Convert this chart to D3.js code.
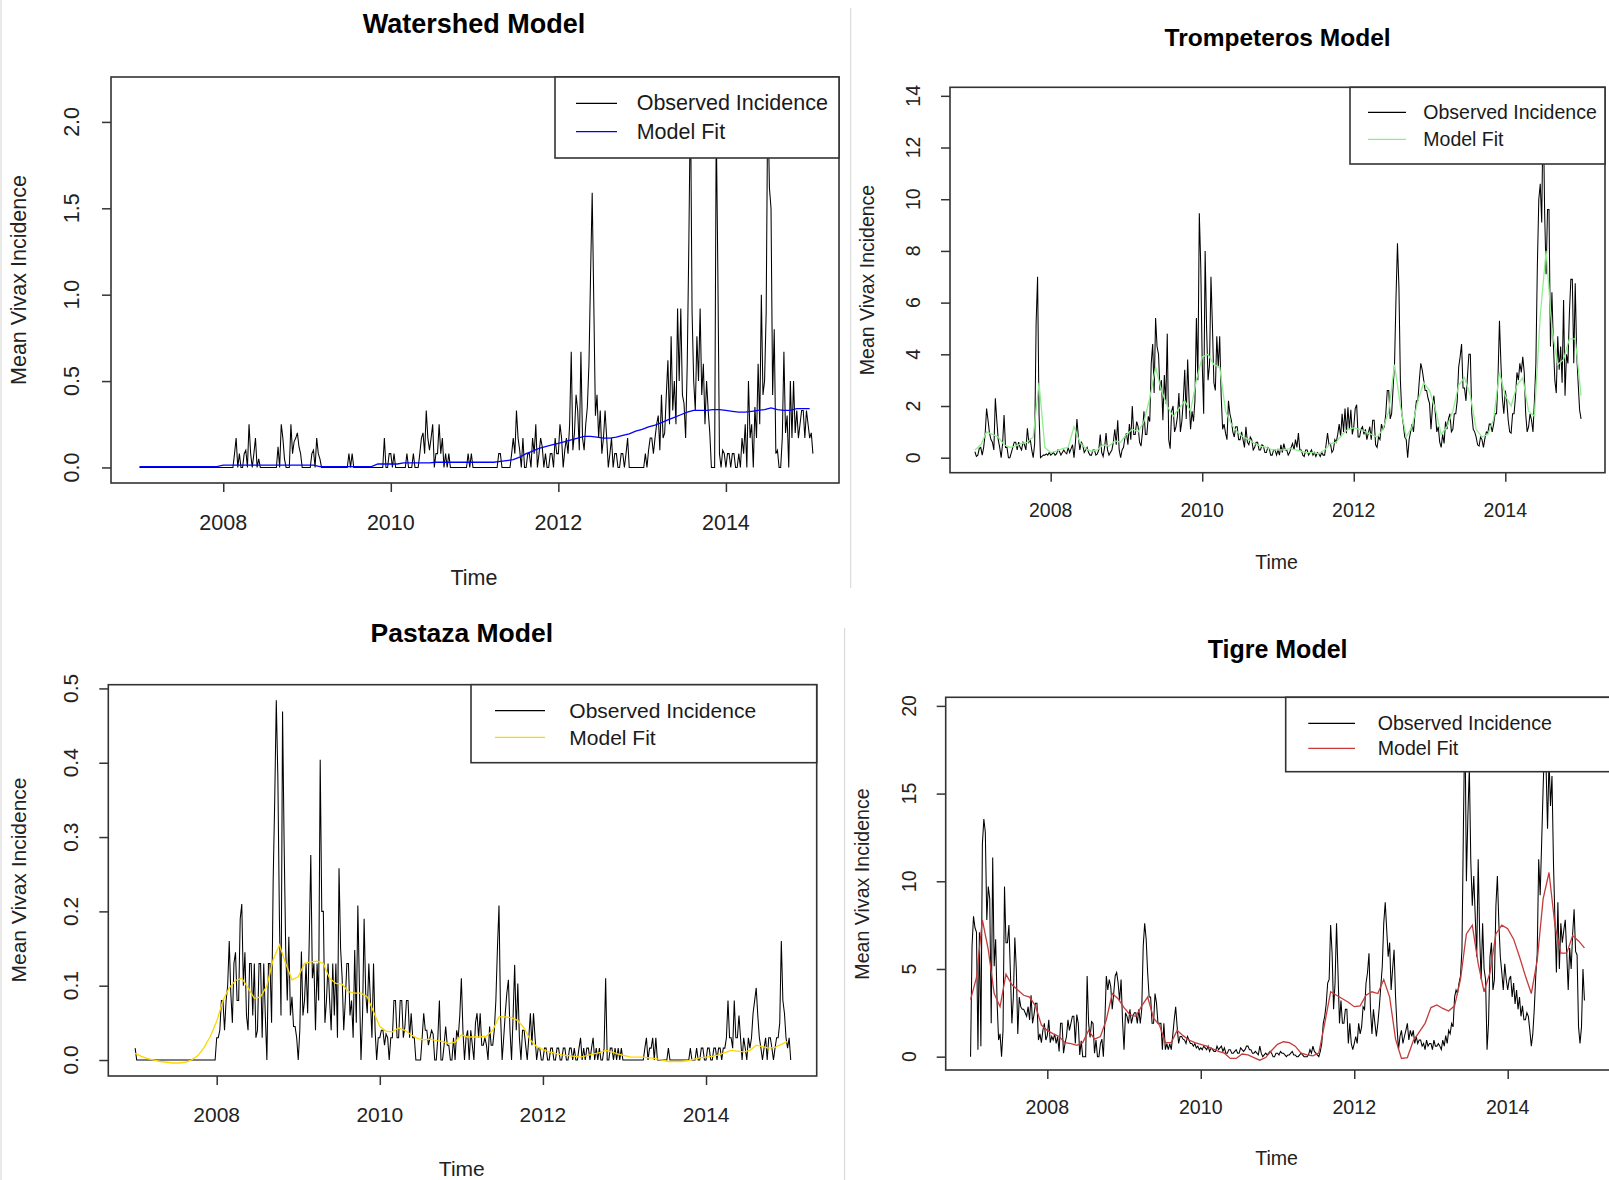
<!DOCTYPE html>
<html><head><meta charset="utf-8">
<script src="https://cdn.jsdelivr.net/npm/d3@7"></script>
<style>body{margin:0;background:#fff}svg{display:block}</style>
</head><body>
<svg id="chart" width="1609" height="1180"></svg>
<script>
// ---------------- DATA ----------------
const START_YEAR = 2007;
const OBS_PER_YEAR = 52;   // observed values, weekly
const FIT_PER_YEAR = 13;   // model fit values, roughly monthly
const xTickYears = [2008, 2010, 2012, 2014];
const legendLabels = ["Observed Incidence", "Model Fit"];
const panelTitles = ["Watershed Model", "Trompeteros Model", "Pastaza Model", "Tigre Model"];
const xAxisTitle = "Time";
const yAxisTitle = "Mean Vivax Incidence";

const wsYTicks = [0, 0.5, 1, 1.5, 2];
const wsYTickLabels = ["0.0", "0.5", "1.0", "1.5", "2.0"];
const trYTicks = [0, 2, 4, 6, 8, 10, 12, 14];
const trYTickLabels = ["0", "2", "4", "6", "8", "10", "12", "14"];
const paYTicks = [0, 0.1, 0.2, 0.3, 0.4, 0.5];
const paYTickLabels = ["0.0", "0.1", "0.2", "0.3", "0.4", "0.5"];
const tiYTicks = [0, 5, 10, 15, 20];
const tiYTickLabels = ["0", "5", "10", "15", "20"];

const wsObs = [
 0,0,0,0,0,0,0,0,0,0,0,0,0, 0,0,0,0,0,0,0,0,0,0,0,0,0, 0,0,0,0,0,0,0,0,0,0,0,0,0, 0,0,0,0,0,0,0,0,0,0,0,0,0,
 0,0, 0,0, 0,0, 0,0.08, 0.17,0, 0.08,0, 0,0.08, 0.1,0, 0.25,0.08, 0,0.08, 0.17,0, 0.05,0, 0,0, 0,0, 0,0, 0,0, 0,0, 0.12,0, 0.25,0.17, 0.05,0, 0,0, 0.25,0.08, 0.15,0.17, 0.2,0.12, 0.08,0, 0,0,
 0,0, 0,0.08, 0.1,0, 0.17,0.08, 0.05,0, 0,0, 0,0, 0,0, 0,0, 0,0, 0,0, 0,0, 0,0, 0.08,0, 0.08,0, 0,0, 0,0, 0,0, 0,0, 0,0, 0,0, 0,0, 0,0, 0,0, 0.17,0, 0,0.08,
 0.08,0, 0.08,0, 0,0, 0,0, 0,0, 0.08,0, 0,0, 0.08,0, 0,0, 0.08,0.17, 0.2,0.08, 0.33,0.17, 0.1,0.17, 0.25,0, 0.08,0.08, 0.25,0.08, 0.17,0, 0.08,0, 0.08,0, 0,0, 0,0, 0,0, 0,0, 0,0, 0.08,0, 0.08,0,
 0,0, 0,0, 0,0, 0,0, 0,0, 0,0, 0,0, 0,0.08, 0.08,0, 0,0, 0,0, 0,0.08, 0.17,0.08, 0.33,0.17, 0.1,0, 0.17,0, 0,0.08, 0.08,0, 0.17,0.08, 0.25,0, 0.08,0.17, 0.12,0, 0.08,0, 0,0.08, 0.08,0, 0.17,0.08,
 0.08,0.25, 0.17,0, 0.1,0.17, 0.08,0.25, 0.67,0.1, 0.2,0.42, 0.33,0.1, 0.67,0.17, 0.1,0.25, 0.35,0.6, 1.12,1.59, 0.95,0.3, 0.42,0.17, 0.33,0.08, 0.17,0.33, 0.17,0, 0.08,0.17, 0,0.08, 0.08,0, 0,0.08, 0.08,0, 0.08,0.17, 0,0, 0,0, 0,0, 0,0,
 0,0, 0.08,0, 0.1,0.17, 0.17,0.08, 0.17,0.25, 0.3,0.1, 0.42,0.17, 0.2,0.42, 0.62,0.25, 0.76,0.33, 0.5,0.25, 0.92,0.5, 0.92,0.42, 0.37,0.17, 0.6,1.3, 2.17,0.9, 0.5,0.33, 0.76,0.5, 0.92,0.42, 0.6,0.25, 0.5,0.33, 0.2,0, 0,0, 2.0,1.13, 0.08,0, 0.1,0.08,
 0,0.08, 0.08,0, 0.08,0.08, 0,0, 0.08,0, 0.17,0.08, 0.25,0, 0.5,0.17, 0.25,0, 0.35,0.17, 0.6,0.25, 1.0,0.42, 0.5,0.9, 2.17,1.62, 1.5,0.42, 0.8,0.08, 0.1,0, 0,0.17, 0.67,0.2, 0.3,0, 0.5,0.17, 0.5,0.2, 0.33,0.17, 0.25,0.33, 0.33,0.17, 0.33,0.25,
 0.17,0.2,0.08
];
const wsFit = [
 0.005,0.005,0.005,0.005,0.005,0.005,0.005,0.005,0.005,0.005,0.005,0.005,0.005,
 0.013,0.013,0.013,0.013,0.013,0.013,0.013,0.013,0.013,0.013,0.013,0.013,0.013,0.013,0.013,
 0.005,0.005,0.005,0.005,0.005,0.005,0.005,0.005,0.005,
 0.02,0.02,0.02,0.02,
 0.027,0.027,0.027,0.027,0.027,
 0.03,0.03,0.03,0.03,0.03,0.03,0.03,0.03,0.03,0.03,
 0.035,0.04,0.045,0.06,0.08,0.095,0.11,0.12,0.13,
 0.14,0.15,0.16,0.17,0.18,0.18,0.175,0.17,0.17,0.175,0.185,0.195,0.21,
 0.22,0.235,0.245,0.26,0.275,0.29,0.305,0.32,0.33,0.33,0.33,0.335,0.335,
 0.33,0.325,0.32,0.32,0.325,0.33,0.335,0.345,0.335,0.33,0.33,0.34,0.34,0.34
];

const trObs = [
 0.23,0.05, 0.1,0.36, 0.4,0.1, 0.4,0.9, 1.9,1.45, 0.95,0.7, 0.6,0.3, 2.3,1.45, 0.7,0.4, 0,0.55, 1.65,0.4, 0.4,0, 0,0.2, 0.4,0.6, 0.6,0.3, 0.6,0.4, 0.3,0.6, 0.5,0.3, 1.14,0.6, 0.7,0.3, 0,0.55, 5.2,7.0, 1.7,0, 0.05,0.1, 0.1,0.15, 0.1,0.2,
 0.1,0.15, 0.2,0.1, 0.15,0.3, 0.25,0.1, 0.2,0.3, 0.2,0.15, 0.4,0.2, 0.35,0.5, 0,0.6, 1.5,0.8, 0.3,0.6, 0.5,0.2, 0.3,0.4, 0.2,0.1, 0.1,0.3, 0.3,0.1, 0.15,0.3, 0.9,0.2, 0.05,0.4, 0.95,0.3, 0.1,0.2, 0.3,0.6, 1.1,0.5, 1.45,0.3, 0,0.3, 0.4,0.8,
 0.95,0.5, 1.3,0.7, 2.0,0.9, 0.9,1.4, 1.2,0.6, 0.45,1.0, 1.8,0.9, 0.9,1.6, 1.4,3.65, 4.4,2.5, 5.4,4.3, 4.0,2.6, 3.0,1.45, 3.2,2.1, 4.8,0.7, 0.35,1.8, 2.0,1.0, 1.2,1.6, 2.5,1.0, 1.4,2.2, 3.4,1.5, 3.8,2.2, 1.1,1.8, 1.4,2.2, 5.4,3.0, 9.46,7.4,
 3.65,1.7, 8.0,5.0, 3.0,3.6, 7.0,5.1, 2.9,2.6, 4.7,3.5, 4.7,2.4, 1.1,1.3, 0.95,0.7, 2.2,1.7, 1.45,1.0, 0.8,1.2, 1.2,0.7, 0.7,1.0, 0.7,0.4, 1.2,0.6, 0.5,0.8, 0.7,0.3, 0.4,0.6, 0.6,0.3, 0.3,0.5, 0.45,0.2, 0.2,0.4, 0.35,0.1, 0.1,0.3, 0.3,0.1,
 0.3,0.1, 0.5,0.2, 0.55,0.3, 0.3,0.1, 0.2,0.4, 0.55,0.3, 0.7,0.4, 0.95,0.3, 0.3,0.1, 0.05,0.3, 0.3,0.1, 0.2,0.3, 0.1,0.2, 0.05,0.2, 0.15,0.05, 0.2,0.1, 0.1,0.5, 0.95,0.5, 0.55,0.2, 0.3,0.7, 0.6,0.9, 1.3,0.8, 1.7,1.0, 1.9,0.95, 1.95,1.1, 1.85,0.9,
 1.2,1.9, 2.05,0.8, 0.8,1.1, 1.2,0.9, 1.1,0.7, 0.95,1.2, 0.7,1.45, 1.45,0.5, 0.4,0.8, 0.7,1.3, 1.1,1.2, 1.7,2.6, 2.6,1.5, 1.7,2.7, 3.65,6.2, 8.3,6.6, 3.0,1.7, 1.3,0.8, 0.7,0, 0.7,1.0, 1.3,1.0, 1.7,2.2, 2.2,3.0, 3.65,3.4, 3.0,2.6, 2.6,2.3,
 2.1,1.1, 1.95,2.4, 1.7,1.0, 1.2,0.6, 0.4,0.9, 0.55,1.4, 1.1,1.5, 1.7,1.0, 1.1,1.7, 1.7,2.2, 3.5,3.9, 4.4,2.7, 2.7,2.2, 3.1,4.0, 4.0,1.7, 1.1,1.0, 0.8,0.5, 0.45,0.8, 0.7,0.4, 0.75,1.0, 0.95,1.3, 1.3,1.0, 1.3,1.7, 1.7,3.1, 5.3,3.65, 2.3,1.7,
 2.6,2.2, 1.45,1.0, 0.95,1.7, 1.7,2.35, 3.3,3.0, 3.65,3.3, 3.9,3.3, 1.7,1.0, 1.2,1.7, 1.45,1.0, 2.2,3.65, 7.4,10.0, 10.6,9.1, 13.8,9.5, 7.1,9.6, 9.6,4.3, 6.4,4.4, 3.0,2.5, 4.7,3.4, 4.3,2.9, 6.1,2.4, 4.0,3.65, 5.6,6.9, 6.9,3.65, 6.75,4.0, 2.9,1.85,
 1.5
];
const trFit = [
 0.3,0.5,1.0,0.9,0.8,0.5,0.4,0.45,0.55,0.6,0.8,2.9,0.4,
 0.2,0.25,0.35,0.4,1.2,0.6,0.35,0.25,0.3,0.5,0.45,0.65,0.6,
 0.9,1.1,1.0,1.4,2.3,3.5,2.6,2.0,1.6,1.9,2.2,1.8,3.0,
 3.9,4.0,3.6,3.5,1.8,1.3,1.0,0.8,0.7,0.55,0.45,0.4,0.3,
 0.3,0.3,0.35,0.3,0.25,0.2,0.2,0.15,0.3,0.55,0.6,0.9,1.1,
 1.15,1.1,1.0,0.9,0.8,1.1,1.8,3.6,2.0,0.8,1.2,2.2,2.9,
 2.6,1.9,0.9,1.2,1.8,2.8,3.1,2.4,1.1,0.8,0.9,1.5,3.3,
 2.4,2.0,2.8,3.1,1.8,1.6,5.5,8.0,5.0,3.6,3.8,4.6,4.6,
 2.4
];

const paObs = [
 0.016,0,0,0,0,0,0,0,0,0,0,0,0, 0,0,0,0,0,0,0,0,0,0,0,0,0, 0,0,0,0,0,0,0,0,0,0,0,0,0, 0,0,0,0,0,0,0,0,0,0,0,0,0,
 0.03,0.03, 0.04,0.08, 0.08,0.04, 0.08,0.1, 0.16,0.09, 0.05,0.13, 0.145,0.08, 0.08,0.19, 0.21,0.1, 0.145,0.06, 0.04,0.13, 0.13,0.06, 0.13,0.03, 0.04,0.13, 0.13,0.03, 0.13,0.06, 0,0.13, 0.13,0.05, 0.24,0.35, 0.484,0.38, 0.19,0.06, 0.469,0.29, 0.15,0.08, 0.166,0.06, 0.085,0.045, 0.045,0.03,
 0,0.04, 0.146,0.06, 0.08,0.13, 0.063,0.16, 0.276,0.11, 0.13,0.04, 0.13,0.08, 0.404,0.2, 0.2,0.05, 0.08,0.13, 0.08,0.04, 0.13,0.06, 0.13,0.03, 0.258,0.15, 0.11,0.04, 0.08,0.13, 0.13,0.06, 0.08,0.03, 0.148,0.05, 0.208,0.1, 0,0.06, 0.19,0.09, 0.063,0.13, 0.08,0.03, 0.13,0.04, 0,0.03,
 0.03,0.04, 0.04,0.02, 0.035,0.03, 0,0.03, 0.03,0.08, 0.08,0.03, 0.03,0.08, 0.08,0.03, 0.045,0.08, 0.08,0.03, 0.063,0.03, 0.03,0, 0,0, 0,0.03, 0.063,0.04, 0.04,0.02, 0.03,0.04, 0.035,0, 0,0.03, 0.08,0, 0,0.02, 0.045,0.02, 0.02,0, 0,0.03, 0,0.04, 0.03,0.06,
 0.11,0.04, 0,0.03, 0.04,0, 0.04,0.02, 0,0.05, 0.063,0.03, 0.063,0.02, 0.02,0.03, 0.02,0, 0.045,0.02, 0.02,0.04, 0.08,0.15, 0.208,0.06, 0,0.03, 0.063,0.09, 0.108,0.04, 0,0.06, 0.128,0.04, 0.103,0.03, 0,0.04, 0.04,0.02, 0,0.03, 0.063,0.02, 0.063,0.03, 0,0.016, 0.016,0,
 0,0.016, 0.016,0, 0,0.016, 0.016,0, 0,0.016, 0.016,0, 0,0.016, 0.016,0, 0,0.016, 0.016,0, 0.016,0, 0,0.016, 0.03,0, 0.016,0, 0.016,0.016, 0,0.016, 0.03,0, 0.016,0, 0.016,0, 0,0.016, 0.11,0, 0,0.016, 0.016,0, 0.016,0, 0.016,0, 0.016,0,
 0,0, 0,0, 0,0, 0,0, 0,0, 0,0, 0,0.016, 0.03,0, 0.016,0.016, 0.03,0, 0.03,0, 0,0, 0,0, 0,0, 0.016,0, 0,0, 0,0, 0,0, 0,0, 0,0, 0,0, 0.016,0, 0,0, 0.016,0, 0,0.016, 0.016,0,
 0,0.016, 0.016,0, 0,0.016, 0.016,0, 0.016,0.016, 0,0.016, 0.016,0.03, 0.08,0.03, 0.03,0.016, 0.08,0.03, 0.03,0.06, 0.03,0, 0.03,0.016, 0,0.03, 0.016,0.03, 0.063,0.08, 0.097,0.06, 0.03,0.016, 0,0.016, 0.03,0, 0.03,0.03, 0.016,0, 0.016,0.03, 0.03,0.05, 0.16,0.08, 0.063,0.03,
 0.016,0.03,0
];
const paFit = [
 0.009,0.005,0.002,0,-0.002,-0.003,-0.004,-0.004,-0.003,0,0.006,0.017,0.032,
 0.052,0.08,0.097,0.107,0.11,0.097,0.083,0.085,0.1,0.135,0.155,0.13,0.108,
 0.112,0.13,0.132,0.133,0.13,0.11,0.103,0.102,0.092,0.09,0.09,0.085,0.065,
 0.045,0.039,0.038,0.043,0.04,0.034,0.029,0.027,0.028,0.026,0.025,0.022,0.024,
 0.034,0.031,0.031,0.031,0.032,0.04,0.058,0.058,0.057,0.053,0.043,0.027,0.018,
 0.014,0.011,0.009,0.007,0.006,0.005,0.004,0.006,0.008,0.01,0.013,0.011,0.008,
 0.006,0.004,0.004,0.004,0.003,0.002,0,-0.002,-0.002,-0.002,-0.001,0.001,0.003,
 0.004,0.005,0.007,0.01,0.013,0.012,0.011,0.013,0.02,0.018,0.016,0.017,0.021,
 0.025
];

const tiObs = [
 0,6.3,8.0,7.35,7.1,0.4,7.1,0.6,12.1,13.55, 12.8,7.8,9.7,9.0,1.9,11.35,5.15,6.7,3.05,0.95, 1.3,0,1.5,9.7,6.5,6.5,7.5,4.8,1.9,3.4, 6.8,5.0,1.3,3.4,2.85,2.7,2.7,2.5,2.3,2.85, 2.1,3.5,1.9,2.4,3.05,3.05,0.95,1.3,0.8,1.5, 1.9,0.95,
 1.2,2.1,0.8,1.15,0.95,1.3,0.75,1.15,0.3,1.9, 1.9,0.2,0.75,1.15,2.1,1.5,1.9,2.3,2.3,0.75, 2.4,1.9,0.1,0.9,0,0,0,4.6,1.9,1.1, 2.0,1.9,0.2,0.95,0,0,0.75,1.0,0,2.0, 4.6,3.8,4.4,4.0,2.7,3.6,4.6,4.8,4.2,3.2, 4.4,2.0,
 0.4,2.5,2.3,1.9,2.7,1.9,2.3,2.5,2.5,1.9, 2.7,1.9,2.7,6.3,7.6,6.7,4.8,3.4,3.4,1.9, 1.9,3.6,3.05,1.9,1.9,1.9,0.4,1.9,0.4,0.75, 0.4,0.75,0.4,1.2,2.1,2.85,1.7,0.75,1.15,1.15, 1.0,0.95,0.75,1.15,0.95,0.75,0.75,0.6,0.75,0.5, 0.6,0.4,
 0.5,0.4,0.6,0.5,0.4,0.6,0.3,0.5,0.4,0.3, 0.3,0.6,0.4,0.5,0.6,0.3,0.5,0.2,0.2,0.4, 0.4,0.2,0.2,0.3,0.4,0.2,0.2,0.5,0.4,0.3, 0.4,0.6,0.6,0.4,0.4,0.2,0.2,0.3,0.2,0.1, 0.6,0.2,0,0.1,0.2,0.1,0.2,0.3,0.2,0, 0,0.2,
 0.2,0.1,0.3,0.2,0.2,0.1,0,0.1,0.1,0.2, 0.3,0.1,0.1,0,0,0.1,0.2,0.1,0,0, 0,0.1,0.4,0.2,0.6,0.3,0.2,0.1,0,0.3, 0.75,1.9,2.3,3.0,4.2,4.4,7.5,5.9,2.7,4.2, 7.6,4.8,1.9,3.2,1.9,1.9,2.7,2.7,0.75,1.9, 0.75,0.4,
 0.75,1.15,0.75,1.9,1.3,1.7,2.85,2.7,4.2,4.8, 5.9,2.7,1.3,2.7,1.9,1.15,1.9,2.85,4.0,5.15, 7.6,8.8,7.25,5.7,6.5,3.8,5.0,6.1,3.4,1.7, 0.4,1.15,1.5,0.75,1.15,1.5,1.9,0.95,1.5,1.15, 1.5,0.75,1.15,0.75,0.95,0.95,0.6,0.75,0.4,0.95, 0.6,0.75,
 0.75,0.4,0.95,0.6,0.6,0.75,0.6,0.4,0.95,0.6, 1.2,0.75,1.5,1.3,1.9,1.7,3.4,3.8,3.6,4.2, 4.6,6.1,13.2,19.6,10.0,13.7,16.5,11.1,8.6,10.3, 8.0,5.7,11.25,6.9,4.4,7.6,5.0,4.4,0.4,1.9, 5.7,6.5,3.8,4.4,8.6,10.3,7.6,5.7,4.8,3.8, 5.3,4.4,
 3.8,4.4,4.6,3.4,4.2,3.0,3.8,2.7,3.4,2.3, 2.9,2.1,2.1,2.5,2.3,1.5,0.6,1.3,2.7,4.6, 5.9,11.25,9.2,12.2,15.3,18.0,16.5,13.0,17.0,14.3, 16.0,11.1,7.8,4.8,8.8,5.0,7.6,6.5,7.2,7.8, 5.9,3.8,6.2,5.0,7.0,8.4,6.0,5.8,1.7,0.75, 1.7,5.0,
 3.2
];
const tiFit = [
 3.25,4.5,7.8,6.1,3.6,2.85,4.7,4.1,3.8,3.5,3.4,2.9,1.8,
 1.5,1.3,1.15,0.8,0.75,0.65,0.8,1.5,1.0,1.15,2.1,3.6,3.3,
 2.8,2.4,2.3,2.9,3.4,2.2,1.8,0.8,0.8,1.5,1.2,0.95,0.8,
 0.7,0.6,0.45,0.3,0.2,-0.1,-0.1,0.15,0.1,-0.05,-0.2,-0.05,0.35,
 0.7,0.85,0.8,0.6,0.2,0.1,0.05,0.2,1.9,3.7,3.5,3.3,3.1,
 2.85,2.9,3.5,3.7,3.6,4.4,3.4,1.0,-0.1,-0.05,0.9,1.4,1.9,
 2.8,2.95,2.75,2.6,2.9,4.4,7.0,7.5,5.3,3.7,4.8,7.0,7.5,
 7.3,6.7,5.7,4.6,3.6,5.5,9.0,10.5,7.5,5.9,5.9,6.9,6.6,
 6.2
];

// ---------------- LAYOUT ----------------
const panels = [
 {id:"ws", title:panelTitles[0], obs:wsObs, fit:wsFit, yTicks:wsYTicks, yLabels:wsYTickLabels, color:"#0000ff",
  left:111, right:839, top:77, bottom:483, xDom:[2006.66,2015.35], yDom:[-0.09,2.26],
  fs:21.5, tfs:27, titleX:474, titleY:24, timeX:474, timeY:578, ylabX:18.5, ylabY:280, yTickX:72, xTickY:523.4,
  lg:{x0:555,x1:839,y0:77,y1:158,lx0:576,lx1:617,ly:[103.3,131.7],tx:636.7}},
 {id:"tr", title:panelTitles[1], obs:trObs, fit:trFit, yTicks:trYTicks, yLabels:trYTickLabels, color:"#90ee90",
  left:950, right:1605, top:87.3, bottom:472.7, xDom:[2006.671,2015.316], yDom:[-0.58,14.33],
  fs:19.5, tfs:24.5, titleX:1277.6, titleY:37, timeX:1276.6, timeY:562.4, ylabX:867, ylabY:280, yTickX:913, xTickY:510,
  lg:{x0:1350,x1:1605,y0:87.3,y1:164,lx0:1368,lx1:1406,ly:[112.3,139.3],tx:1423.3}},
 {id:"pa", title:panelTitles[2], obs:paObs, fit:paFit, yTicks:paYTicks, yLabels:paYTickLabels, color:"#ffd700",
  left:108.3, right:816.7, top:684.7, bottom:1076, xDom:[2006.671,2015.357], yDom:[-0.0215,0.505],
  fs:21, tfs:26.5, titleX:461.8, titleY:633, timeX:461.8, timeY:1168, ylabX:18.5, ylabY:880, yTickX:70, xTickY:1114.5,
  lg:{x0:471,x1:816.7,y0:684.7,y1:762.7,lx0:495,lx1:545,ly:[710.7,737.3],tx:569.3}},
 {id:"ti", title:panelTitles[3], obs:tiObs, fit:tiFit, yTicks:tiYTicks, yLabels:tiYTickLabels, color:"#c53b3b",
  left:945.7, right:1611.3, top:697.3, bottom:1070, xDom:[2006.676,2015.35], yDom:[-0.76,20.49],
  fs:19.6, tfs:25, titleX:1277.6, titleY:648.5, timeX:1276.6, timeY:1157.5, ylabX:862, ylabY:884, yTickX:909, xTickY:1107.3,
  lg:{x0:1285.7,x1:1612,y0:697.3,y1:771.7,lx0:1308.3,lx1:1355,ly:[723.3,748.3],tx:1377.7}}
];

const FONT = "'Liberation Sans', Arial, sans-serif";
const svg = d3.select("#chart");
svg.append("rect").attr("width",1609).attr("height",1180).attr("fill","#fff");

// faint screenshot separators
const sep = [[1,0,1,1180],[850.7,8,850.7,588],[844.6,628,844.6,1180]];
svg.selectAll("line.sep").data(sep).enter().append("line").attr("class","sep")
  .attr("x1",d=>d[0]).attr("y1",d=>d[1]).attr("x2",d=>d[2]).attr("y2",d=>d[3])
  .attr("stroke","#d4d4d4").attr("stroke-width",1);

const defs = svg.append("defs");

panels.forEach(p => {
  const g = svg.append("g");
  const x = d3.scaleLinear().domain(p.xDom).range([p.left, p.right]);
  const y = d3.scaleLinear().domain(p.yDom).range([p.bottom, p.top]);

  defs.append("clipPath").attr("id","clip-"+p.id).append("rect")
    .attr("x",p.left).attr("y",p.top).attr("width",p.right-p.left).attr("height",p.bottom-p.top);

  const obsData = p.obs.map((v,i)=>({t:START_YEAR + i/OBS_PER_YEAR, v}));
  const fitData = p.fit.map((v,i)=>({t:START_YEAR + i/FIT_PER_YEAR, v}));
  const line = d3.line().x(d=>x(d.t)).y(d=>y(d.v));

  const plot = g.append("g").attr("clip-path","url(#clip-"+p.id+")");
  plot.append("path").datum(obsData).attr("d",line).attr("fill","none")
    .attr("stroke","#000").attr("stroke-width",1.05).attr("stroke-linejoin","miter");
  plot.append("path").datum(fitData).attr("d",line).attr("fill","none")
    .attr("stroke",p.color).attr("stroke-width",1.3);

  // box
  g.append("rect").attr("x",p.left).attr("y",p.top).attr("width",p.right-p.left).attr("height",p.bottom-p.top)
    .attr("fill","none").attr("stroke","#333").attr("stroke-width",1.6);

  // x axis ticks
  const xa = g.append("g").attr("transform",`translate(0,${p.bottom})`)
    .call(d3.axisBottom(x).tickValues(xTickYears).tickSize(9).tickFormat(""));
  xa.select(".domain").remove();
  xa.selectAll(".tick line").attr("stroke","#333").attr("stroke-width",1.5);
  g.selectAll("text.xt").data(xTickYears).enter().append("text")
    .attr("x",d=>x(d)).attr("y",p.xTickY).attr("text-anchor","middle").attr("dominant-baseline","central")
    .attr("font-family",FONT).attr("font-size",p.fs).attr("fill","#222").text(d=>d);

  // y axis ticks
  const ya = g.append("g").attr("transform",`translate(${p.left},0)`)
    .call(d3.axisLeft(y).tickValues(p.yTicks).tickSize(9).tickFormat(""));
  ya.select(".domain").remove();
  ya.selectAll(".tick line").attr("stroke","#333").attr("stroke-width",1.5);
  g.selectAll("text.yt").data(p.yTicks).enter().append("text")
    .attr("transform",d=>`translate(${p.yTickX},${y(d)}) rotate(-90)`)
    .attr("text-anchor","middle").attr("dominant-baseline","central")
    .attr("font-family",FONT).attr("font-size",p.fs).attr("fill","#222")
    .text((d,i)=>p.yLabels[i]);

  // titles
  g.append("text").attr("x",p.titleX).attr("y",p.titleY).attr("text-anchor","middle").attr("dominant-baseline","central")
    .attr("font-family",FONT).attr("font-weight","bold").attr("font-size",p.tfs).attr("fill","#000").text(p.title);
  g.append("text").attr("x",p.timeX).attr("y",p.timeY).attr("text-anchor","middle").attr("dominant-baseline","central")
    .attr("font-family",FONT).attr("font-size",p.fs).attr("fill","#222").text(xAxisTitle);
  g.append("text").attr("transform",`translate(${p.ylabX},${p.ylabY}) rotate(-90)`)
    .attr("text-anchor","middle").attr("dominant-baseline","central")
    .attr("font-family",FONT).attr("font-size",p.fs).attr("fill","#222").text(yAxisTitle);

  // legend
  const L = p.lg;
  g.append("rect").attr("x",L.x0).attr("y",L.y0).attr("width",L.x1-L.x0).attr("height",L.y1-L.y0)
    .attr("fill","#fff").attr("stroke","#333").attr("stroke-width",1.6);
  const colors = ["#000", p.color];
  legendLabels.forEach((lab,i)=>{
    g.append("line").attr("x1",L.lx0).attr("x2",L.lx1).attr("y1",L.ly[i]).attr("y2",L.ly[i])
      .attr("stroke",colors[i]).attr("stroke-width",1.3);
    g.append("text").attr("x",L.tx).attr("y",L.ly[i]).attr("dominant-baseline","central")
      .attr("font-family",FONT).attr("font-size",p.fs).attr("fill","#1a1a1a").text(lab);
  });
});
</script>
</body></html>
